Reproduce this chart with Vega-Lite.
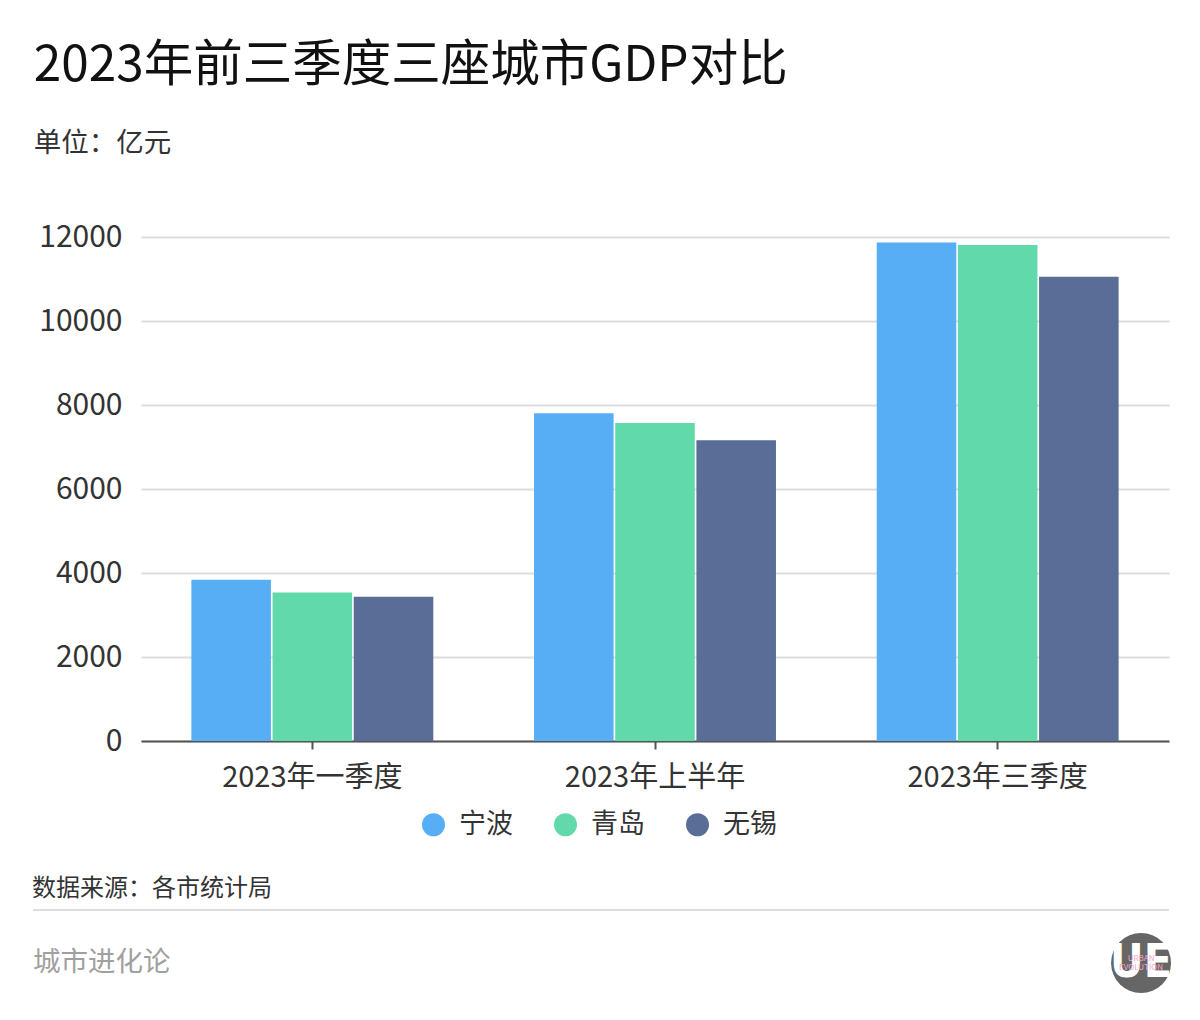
{
  "$schema": "https://vega.github.io/schema/vega-lite/v6.json",
  "background": "#ffffff",
  "padding": {"top": 41, "left": 32, "right": 32, "bottom": 0},
  "autosize": {"type": "pad"},
  "config": {
    "font": "Noto Sans CJK SC",
    "view": {"stroke": null},
    "axis": {"labelFont": "Noto Sans CJK SC"},
    "legend": {"labelFont": "Noto Sans CJK SC"},
    "title": {"font": "Noto Sans CJK SC", "subtitleFont": "Noto Sans CJK SC"}
  },
  "resolve": {"legend": {"color": "independent"}},
  "spacing": 39,
  "vconcat": [
    {
      "title": {
        "text": "2023年前三季度三座城市GDP对比",
        "subtitle": "单位：亿元",
        "anchor": "start",
        "frame": "bounds",
        "dx": -5,
        "fontSize": 49.5,
        "fontWeight": "normal",
        "color": "#111111",
        "subtitleFontSize": 27.5,
        "subtitleColor": "#333333",
        "subtitlePadding": 38,
        "offset": 64
      },
      "width": 1028,
      "height": 504,
      "data": {
        "values": [
          {"period": "2023年一季度", "city": "宁波", "gdp": 3838},
          {"period": "2023年一季度", "city": "青岛", "gdp": 3538},
          {"period": "2023年一季度", "city": "无锡", "gdp": 3432},
          {"period": "2023年上半年", "city": "宁波", "gdp": 7806},
          {"period": "2023年上半年", "city": "青岛", "gdp": 7573},
          {"period": "2023年上半年", "city": "无锡", "gdp": 7162},
          {"period": "2023年三季度", "city": "宁波", "gdp": 11867},
          {"period": "2023年三季度", "city": "青岛", "gdp": 11812},
          {"period": "2023年三季度", "city": "无锡", "gdp": 11052}
        ]
      },
      "mark": {"type": "bar"},
      "encoding": {
        "x": {
          "field": "period",
          "type": "nominal",
          "sort": ["2023年一季度", "2023年上半年", "2023年三季度"],
          "scale": {"paddingInner": 0.294, "paddingOuter": 0.147},
          "axis": {
            "title": null,
            "labelAngle": 0,
            "labelLimit": 0,
            "labelFontSize": 29,
            "labelColor": "#333333",
            "labelPadding": 14,
            "domainColor": "#555555",
            "domainWidth": 2,
            "tickColor": "#555555",
            "tickWidth": 2,
            "tickSize": 8
          }
        },
        "xOffset": {
          "field": "city",
          "type": "nominal",
          "sort": ["宁波", "青岛", "无锡"],
          "scale": {"paddingInner": 0.02}
        },
        "y": {
          "field": "gdp",
          "type": "quantitative",
          "scale": {"domain": [0, 12000]},
          "axis": {
            "title": null,
            "values": [0, 2000, 4000, 6000, 8000, 10000, 12000],
            "format": "d",
            "labelFontSize": 30,
            "labelColor": "#333333",
            "labelPadding": 19,
            "domain": false,
            "ticks": false,
            "gridColor": "#dcdcdc",
            "gridWidth": 2
          }
        },
        "color": {
          "field": "city",
          "type": "nominal",
          "scale": {
            "domain": ["宁波", "青岛", "无锡"],
            "range": ["#58aef4", "#61d9aa", "#5a6d96"]
          },
          "legend": {
            "title": null,
            "orient": "none",
            "direction": "horizontal",
            "legendX": 279,
            "legendY": 574,
            "symbolType": "circle",
            "symbolSize": 529,
            "symbolStrokeWidth": 0,
            "symbolOpacity": 1,
            "labelFontSize": 27,
            "labelColor": "#333333",
            "labelOffset": 12,
            "columnPadding": 39
          }
        }
      }
    },
    {
      "title": {
        "text": "数据来源：各市统计局",
        "anchor": "start",
        "frame": "bounds",
        "fontSize": 24,
        "fontWeight": "normal",
        "color": "#333333",
        "offset": 8
      },
      "width": 1028,
      "height": 100,
      "data": {"values": [{"brand": "城市进化论", "logo": "UE", "en1": "URBAN", "en2": "EVOLUTION"}]},
      "layer": [
        {
          "mark": {"type": "rule", "color": "#dddddd", "strokeWidth": 2},
          "encoding": {
            "x": {"datum": 0, "type": "quantitative", "scale": {"domain": [0, 1], "range": [-108, 1028]}, "axis": null},
            "x2": {"datum": 1},
            "y": {"datum": 1, "type": "quantitative", "scale": {"domain": [0, 1]}, "axis": null}
          }
        },
        {
          "mark": {"type": "text", "align": "left", "baseline": "middle", "fontSize": 27.5, "color": "#a0a0a0"},
          "encoding": {
            "x": {"datum": 0, "type": "quantitative"},
            "y": {"datum": 0.47, "type": "quantitative"},
            "text": {"field": "brand"}
          }
        },
        {
          "mark": {"type": "point", "shape": "circle", "filled": true, "size": 3600, "color": "#666666", "opacity": 1},
          "encoding": {
            "x": {"datum": 0.9754, "type": "quantitative"},
            "y": {"datum": 0.47, "type": "quantitative"}
          }
        },
        {
          "mark": {"type": "text", "align": "center", "baseline": "middle", "fontSize": 46, "fontWeight": "bold", "color": "#ffffff", "font": "DejaVu Sans Condensed"},
          "encoding": {
            "x": {"datum": 0.9754, "type": "quantitative"},
            "y": {"datum": 0.47, "type": "quantitative"},
            "text": {"field": "logo"}
          }
        },
        {
          "mark": {"type": "text", "align": "center", "baseline": "middle", "fontSize": 8, "color": "#f2a6c8", "dy": -4},
          "encoding": {
            "x": {"datum": 0.9754, "type": "quantitative"},
            "y": {"datum": 0.47, "type": "quantitative"},
            "text": {"field": "en1"}
          }
        },
        {
          "mark": {"type": "text", "align": "center", "baseline": "middle", "fontSize": 8, "color": "#f2a6c8", "dy": 5},
          "encoding": {
            "x": {"datum": 0.9754, "type": "quantitative"},
            "y": {"datum": 0.47, "type": "quantitative"},
            "text": {"field": "en2"}
          }
        }
      ]
    }
  ]
}
